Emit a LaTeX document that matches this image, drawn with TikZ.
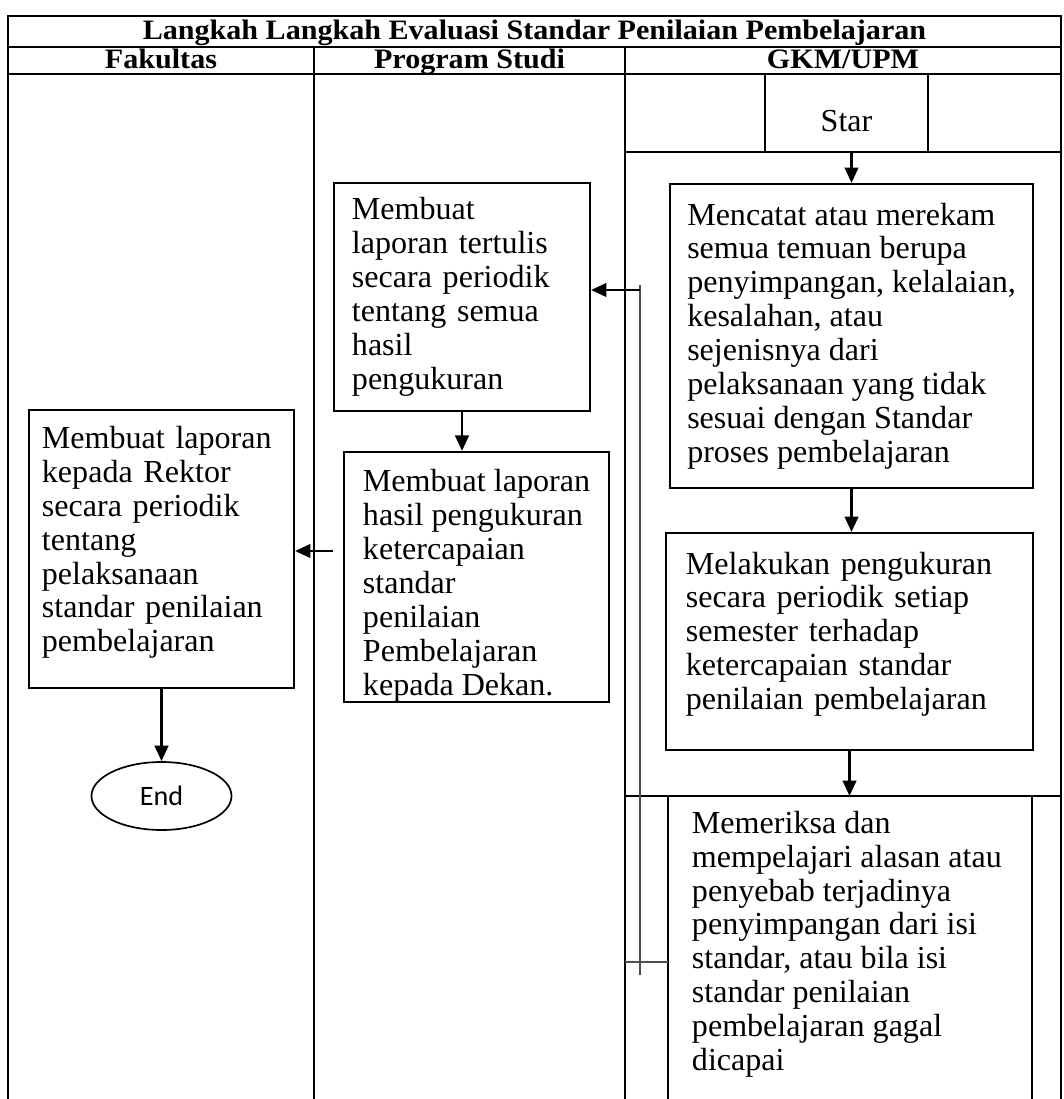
\documentclass[tikz,border=0pt]{standalone}
\usepackage{fontspec}
\setmainfont{Liberation Serif}
\newfontfamily\calibrifont{Carlito}
\newfontfamily\kepalafamily[FakeStretch=1.07]{Liberation Serif}
\usepackage{tikz}
\usetikzlibrary{positioning, arrows.meta, shapes.geometric, calc}
\hyphenpenalty=10000
\exhyphenpenalty=10000
\newcommand{\isi}{\fontsize{11.4}{12.05}\selectfont}
\newcommand{\kepalafont}{\kepalafamily\fontsize{10}{12}\selectfont\bfseries}
\tikzset{
    tabel/.style={
        line width=0.7pt
    },
    block/.style={
        rectangle, draw, line width=0.7pt,
        align=left, inner sep=0pt,
        font=\isi
    },
    msg/.style={
        -{Triangle[length=5.5pt, width=4.8pt]}, line width=1pt
    },
    balik/.style={
        draw=black!70, line width=0.5pt
    },
    kepala/.style={
        font=\kepalafont, inner sep=0pt, anchor=base
    },
    ujung/.style={
        ellipse, draw, line width=0.6pt,
        minimum width=1.75cm, minimum height=0.85cm,
        font=\calibrifont\fontsize{10}{12}\selectfont
    }
}
\begin{document}
\begin{tikzpicture}[x=0.0125cm, y=-0.0125cm]
\useasboundingbox (0,0) rectangle (1063,1099);

% tabel
\draw[tabel] (8,1099) -- (8,16) -- (1061,16) -- (1061,1099);
\draw[tabel] (8,47) -- (1061,47);
\draw[tabel] (8,74) -- (1061,74);
\draw[tabel] (314,47) -- (314,1099);
\draw[tabel] (625,47) -- (625,1099);
\draw[tabel] (625,152) -- (1061,152);
\draw[tabel] (625,796) -- (1061,796);
\draw[tabel] (668,796) -- (668,1099);
\draw[tabel] (1032,796) -- (1032,1099);

\node[kepala] (judul) at (534.5,40) {Langkah Langkah Evaluasi Standar Penilaian Pembelajaran};
\node[kepala] (fakultas) at (161,68.5) {Fakultas};
\node[kepala] (prodi) at (469.5,68.5) {Program Studi};
\node[kepala] (gkm) at (843,68.5) {GKM/UPM};

% GKM/UPM
\node[draw, tabel, minimum width=2.0375cm, minimum height=0.975cm, text height=0.47cm, text depth=0pt, font=\isi] (start) at (846.5,113) {Star};
\node[block, minimum width=4.5375cm, minimum height=3.8cm] (catat) at (851.5,336) {Mencatat atau merekam\\semua temuan berupa\\penyimpangan, kelalaian,\\kesalahan, atau\\sejenisnya dari\\pelaksanaan yang tidak\\sesuai dengan Standar\\proses pembelajaran};
\node[block, text width=4.0875cm, inner xsep=0.25cm, minimum height=2.7125cm] (ukur) at (849.5,641.5) {Melakukan pengukuran\\secara periodik setiap\\semester terhadap\\ketercapaian standar\\penilaian pembelajaran\rule[-0.27cm]{0pt}{0.27cm}};
\node[block, draw=none, anchor=north west, inner ysep=0.175cm] (periksa) at (691,796) {Memeriksa dan\\mempelajari alasan atau\\penyebab terjadinya\\penyimpangan dari isi\\standar, atau bila isi\\standar penilaian\\pembelajaran gagal\\dicapai};

% Program Studi
\node[block, text width=2.75cm, inner xsep=0.225cm, minimum height=2.85cm] (lapor) at (462,297) {Membuat\\laporan tertulis\\secara periodik\\tentang semua\\hasil\\pengukuran};
\node[block, minimum width=3.3125cm, minimum height=3.0cm] (laporprodi) at (476.5,577) {\rule{0pt}{0.5cm}Membuat laporan\\hasil pengukuran\\ketercapaian\\standar\\penilaian\\Pembelajaran\\kepada Dekan.};

% Fakultas
\node[block, text width=2.9875cm, inner xsep=0.1625cm, minimum height=3.475cm] (rektor) at (161.5,549) {Membuat laporan\\kepada Rektor\\secara periodik\\tentang\\pelaksanaan\\standar penilaian\\pembelajaran\rule[-0.25cm]{0pt}{0.25cm}};
\node[ujung] (selesai) at (161.5,796) {End};

\coordinate (kiri) at (333,551);
\coordinate (balikatas) at (640,285);
\coordinate (balikbawah) at (640,975);
\coordinate (panahbalik) at (640,290);
\coordinate (sambung) at (625,962);

\draw[msg] (catat.north |- start.south) -- (catat.north);
\draw[msg] (catat.south) -- (catat.south |- ukur.north);
\draw[msg] (ukur.south) -- (ukur.south |- periksa.north);
\draw[msg] (lapor.south) -- (lapor.south |- laporprodi.north);
\draw[msg] (kiri) -- (kiri -| rektor.east);
\draw[msg] (rektor.south) -- (selesai.north);

\draw[balik] (balikbawah) -- (balikatas);
\draw[balik] (sambung) -- (sambung -| 668,0);
\draw[msg] (panahbalik) -- (panahbalik -| lapor.east);

\end{tikzpicture}
\end{document}
